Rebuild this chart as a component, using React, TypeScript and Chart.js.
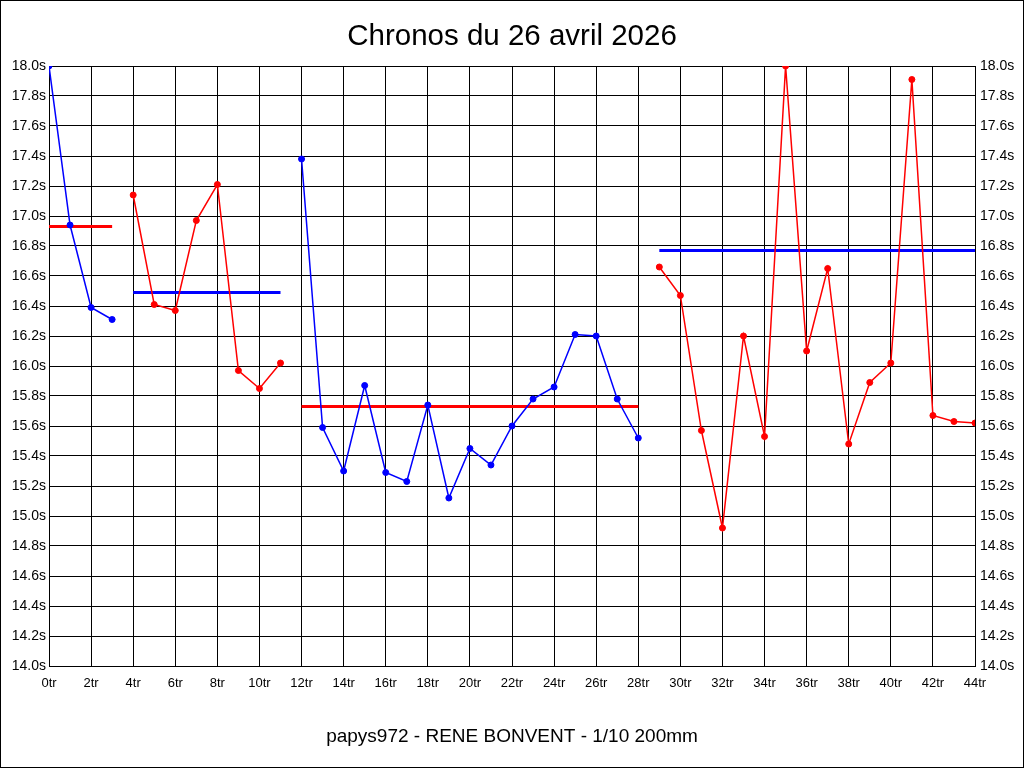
import React, { useEffect, useRef } from "react";
import { Chart, registerables } from "chart.js";

Chart.register(...registerables);

const TITLE = "Chronos du 26 avril 2026";
const SUBTITLE = "papys972 - RENE BONVENT - 1/10 200mm";

// Lap numbers and times (seconds) for each run segment
const laps1 = [0, 1, 2, 3];
const times1 = [18.0, 16.94, 16.39, 16.31];

const laps2 = [4, 5, 6, 7, 8, 9, 10, 11];
const times2 = [17.14, 16.41, 16.37, 16.97, 17.21, 15.97, 15.85, 16.02];

const laps3 = [12, 13, 14, 15, 16, 17, 18, 19, 20, 21, 22, 23, 24, 25, 26, 27, 28];
const times3 = [17.38, 15.59, 15.3, 15.87, 15.29, 15.23, 15.74, 15.12, 15.45, 15.34, 15.6, 15.78, 15.86, 16.21, 16.2, 15.78, 15.52];

const laps4 = [29, 30, 31, 32, 33, 34, 35, 36, 37, 38, 39, 40, 41, 42, 43, 44];
const times4 = [16.66, 16.47, 15.57, 14.92, 16.2, 15.53, 18.0, 16.1, 16.65, 15.48, 15.89, 16.02, 17.91, 15.67, 15.63, 15.62];

// Average (reference) lines per segment
const avgStart = [0, 4, 12, 29];
const avgEnd = [3, 11, 28, 44];
const avgValues = [16.93, 16.49, 15.73, 16.77];

// Axis ranges / tick steps
const xMin = 0;
const xMax = 44;
const xStep = 2;
const yMin = 14.0;
const yMax = 18.0;
const yStep = 0.2;

const BLUE = "#0000ff";
const RED = "#ff0000";
const FONT = "'Liberation Sans', Arial, Helvetica, sans-serif";

const segLaps = [laps1, laps2, laps3, laps4];
const segTimes = [times1, times2, times3, times4];
const segColors = [BLUE, RED, BLUE, RED];
const avgColors = [RED, BLUE, RED, BLUE];

const framePlugin = {
  id: "frame",
  beforeDraw(chart: any) {
    const ctx = chart.ctx;
    ctx.save();
    ctx.fillStyle = "#ffffff";
    ctx.fillRect(0, 0, chart.width, chart.height);
    ctx.restore();
  },
  afterDraw(chart: any) {
    const ctx = chart.ctx;
    ctx.save();
    ctx.strokeStyle = "#000000";
    ctx.lineWidth = 1;
    ctx.strokeRect(0.5, 0.5, chart.width - 1, chart.height - 1);
    ctx.restore();
  },
};

export default function App() {
  const ref = useRef<HTMLCanvasElement | null>(null);

  useEffect(() => {
    if (!ref.current) return;

    const dataSets: any[] = segLaps.map((laps, s) => ({
      label: "Série " + (s + 1),
      data: laps.map((x, i) => ({ x, y: segTimes[s][i] })),
      borderColor: segColors[s],
      backgroundColor: segColors[s],
      pointBackgroundColor: segColors[s],
      pointBorderColor: segColors[s],
      borderWidth: 1.5,
      pointRadius: 3,
      pointBorderWidth: 1,
      tension: 0,
      order: 0,
    }));

    const avgSets: any[] = avgValues.map((v, s) => ({
      label: "Moyenne " + (s + 1),
      data: [
        { x: avgStart[s], y: v },
        { x: avgEnd[s], y: v },
      ],
      borderColor: avgColors[s],
      backgroundColor: avgColors[s],
      borderWidth: 3,
      pointRadius: 0,
      tension: 0,
      order: 1,
    }));

    const yTicks = (pad: number) => ({
      stepSize: yStep,
      color: "#000000",
      padding: pad,
      font: { family: FONT, size: 14 },
      callback: (v: any) => Number(v).toFixed(1) + "s",
    });

    const chart = new Chart(ref.current, {
      type: "line",
      data: { datasets: [...dataSets, ...avgSets] },
      plugins: [framePlugin],
      options: {
        animation: false,
        responsive: false,
        devicePixelRatio: 1,
        layout: { padding: 0 },
        plugins: {
          legend: { display: false },
          tooltip: { enabled: false },
          title: {
            display: true,
            text: TITLE,
            color: "#000000",
            font: { family: FONT, size: 29.5, weight: "normal" as any },
            padding: { top: 19, bottom: 11.6 },
          },
          subtitle: {
            display: true,
            position: "bottom",
            text: SUBTITLE,
            color: "#000000",
            font: { family: FONT, size: 19, weight: "normal" as any },
            padding: { top: 19, bottom: 20.2 },
          },
        },
        scales: {
          x: {
            type: "linear",
            min: xMin,
            max: xMax,
            ticks: {
              stepSize: xStep,
              color: "#000000",
              padding: 10,
              maxRotation: 0,
              autoSkip: false,
              font: { family: FONT, size: 13 },
              callback: (v: any) => Number(v) + "tr",
            },
            grid: { color: "#000000", lineWidth: 1, drawTicks: false },
            border: { color: "#000000", width: 1 },
            afterFit: (s: any) => {
              s.height = 40;
            },
          },
          y: {
            type: "linear",
            position: "left",
            min: yMin,
            max: yMax,
            ticks: yTicks(3) as any,
            grid: { color: "#000000", lineWidth: 1, drawTicks: false },
            border: { color: "#000000", width: 1 },
            afterFit: (s: any) => {
              s.width = 49;
            },
          },
          y2: {
            type: "linear",
            position: "right",
            min: yMin,
            max: yMax,
            ticks: yTicks(5) as any,
            grid: { drawOnChartArea: false, drawTicks: false },
            border: { color: "#000000", width: 1 },
            afterFit: (s: any) => {
              s.width = 49;
            },
          },
        },
      },
    } as any);

    return () => chart.destroy();
  }, []);

  return (
    <div style={{ position: "absolute", left: 0, top: 0, width: 1024, height: 768 }}>
      <canvas ref={ref} width={1024} height={768} />
    </div>
  );
}
